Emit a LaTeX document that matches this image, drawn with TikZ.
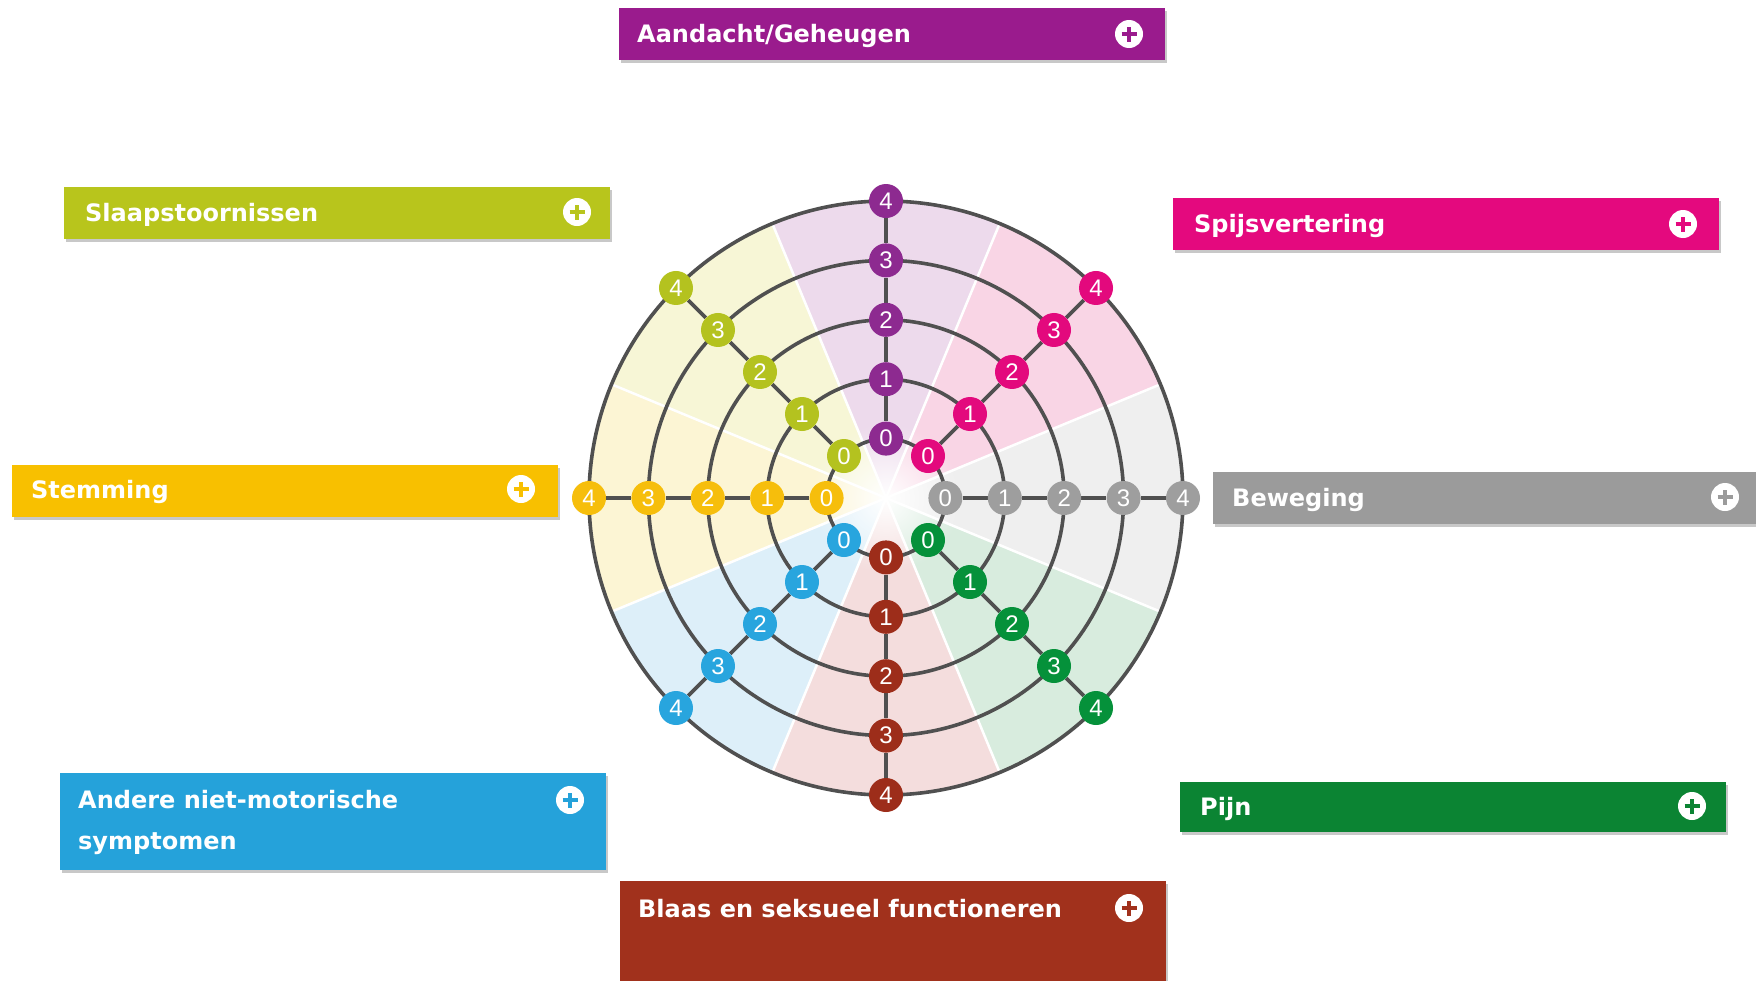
\documentclass[tikz,border=0pt]{standalone}
\usepackage{fontspec}
\setmainfont{DejaVu Sans}
\newfontfamily\numfont{Liberation Sans}
\usetikzlibrary{shadows,fadings}
\definecolor{bPur}{HTML}{9A1B8D}\definecolor{nPur}{HTML}{8D2A90}\definecolor{lPur}{HTML}{EDDAEC}
\definecolor{bMag}{HTML}{E4097E}\definecolor{nMag}{HTML}{E3097D}\definecolor{lMag}{HTML}{F9D5E5}
\definecolor{bGry}{HTML}{9B9B9B}\definecolor{nGry}{HTML}{9E9E9E}\definecolor{lGry}{HTML}{EFEFEF}
\definecolor{bGrn}{HTML}{0B8433}\definecolor{nGrn}{HTML}{05913A}\definecolor{lGrn}{HTML}{D8ECDE}
\definecolor{bBrn}{HTML}{A1311C}\definecolor{nBrn}{HTML}{9D2D1A}\definecolor{lBrn}{HTML}{F4DDDD}
\definecolor{bBlu}{HTML}{25A2DA}\definecolor{nBlu}{HTML}{28A5DE}\definecolor{lBlu}{HTML}{DDEFF9}
\definecolor{bYel}{HTML}{F8C000}\definecolor{nYel}{HTML}{F6BE0C}\definecolor{lYel}{HTML}{FCF5D4}
\definecolor{bLim}{HTML}{B8C51C}\definecolor{nLim}{HTML}{B4C21F}\definecolor{lLim}{HTML}{F7F6D6}
\definecolor{lineC}{HTML}{505050}
\tikzfading[name=centerfade, inner color=transparent!0, outer color=transparent!100]
\pgfdeclarelayer{bg}
\pgfsetlayers{bg,main}
\begin{document}
\begin{tikzpicture}[x=1pt,y=-1pt,
  ringline/.style={draw=lineC, line width=3.6pt},
  dot/.style={circle, inner sep=0pt, minimum size=34pt, text=white,
    font=\numfont\fontsize{24}{24}\selectfont},
  catbox/.style={rectangle, fill=#1, inner sep=0pt, anchor=north west,
    minimum width=546pt, minimum height=52pt,
    drop shadow={shadow xshift=2pt, shadow yshift=-3pt, opacity=0.3, fill=black!70}},
  lbl/.style={text=white, font=\bfseries\fontsize{24}{41}\selectfont,
    inner sep=0pt, align=left, anchor=base west},
  plusicon/.style={circle, fill=white, inner sep=0pt, minimum size=28pt,
    path picture={
      \draw[#1, line width=4.5pt]
        ([xshift=-7.5pt]path picture bounding box.center) -- ([xshift=7.5pt]path picture bounding box.center)
        ([yshift=-7.5pt]path picture bounding box.center) -- ([yshift=7.5pt]path picture bounding box.center);}}
]
\useasboundingbox (0,0) rectangle (1756,980);
\begin{pgfonlayer}{bg}
  \fill[white] (0,0) rectangle (1756,980);
\end{pgfonlayer}

% ---------- wheel ----------
\begin{scope}[shift={(886,498)}, y=1pt]
  \begin{pgfonlayer}{bg}
    \foreach \a/\c in {90/lPur,45/lMag,0/lGry,-45/lGrn,-90/lBrn,-135/lBlu,180/lYel,135/lLim}
      \fill[\c] (0,0) -- (\a-22.5:297) arc[start angle=\a-22.5, end angle=\a+22.5, radius=297] -- cycle;
    \fill[white, path fading=centerfade] (0,0) circle (75);
    \foreach \a in {22.5,67.5,...,337.5}
      \draw[white, line width=2.5pt] (0,0) -- (\a:297);
    \foreach \k in {1,...,5}
      \draw[ringline] (0,0) circle ({59.4*\k});
  \end{pgfonlayer}
  \foreach \a/\c/\n in {90/nPur/P,45/nMag/M,0/nGry/G,-45/nGrn/N,-90/nBrn/B,-135/nBlu/U,180/nYel/Y,135/nLim/L}{
    \foreach \k in {0,...,4}
      \node[dot, fill=\c] (\n\k) at (\a:{59.4*(\k+1)}) {\k};
    \begin{pgfonlayer}{bg}
      \draw[ringline] (\n0) -- (\n1) -- (\n2) -- (\n3) -- (\n4);
    \end{pgfonlayer}
  }
\end{scope}

% ---------- category boxes ----------
\node[catbox=bPur] (bA) at (619,8) {};
\node[lbl] (tA) at (637,42.5) {Aandacht/Geheugen};
\node[plusicon=bPur] (iA) at (1129,34) {};

\node[catbox=bLim] (bS) at (64,187) {};
\node[lbl] (tS) at (85,221.5) {Slaapstoornissen};
\node[plusicon=bLim] (iS) at (577,212) {};

\node[catbox=bMag] (bP) at (1173,198) {};
\node[lbl] (tP) at (1194,232.5) {Spijsvertering};
\node[plusicon=bMag] (iP) at (1683,224) {};

\node[catbox=bYel] (bM) at (12,465) {};
\node[lbl] (tM) at (31,498.5) {Stemming};
\node[plusicon=bYel] (iM) at (521,489) {};

\node[catbox=bGry, minimum width=560pt] (bB) at (1213,472) {};
\node[lbl] (tB) at (1232,506) {Beweging};
\node[plusicon=bGry] (iB) at (1725,497) {};

\node[catbox=bBlu, minimum height=97pt] (bO) at (60,773) {};
\node[lbl] (tO) at (78,849.5) {Andere niet-motorische\\symptomen};
\node[plusicon=bBlu] (iO) at (570,800) {};

\node[catbox=bGrn, minimum height=50pt] (bN) at (1180,782) {};
\node[lbl] (tN) at (1200,815.5) {Pijn};
\node[plusicon=bGrn] (iN) at (1692,806) {};

\node[catbox=bBrn, minimum height=104pt] (bL) at (620,881) {};
\node[lbl] (tL) at (638,917.5) {Blaas en seksueel functioneren};
\node[plusicon=bBrn] (iL) at (1129,908) {};
\end{tikzpicture}
\end{document}
